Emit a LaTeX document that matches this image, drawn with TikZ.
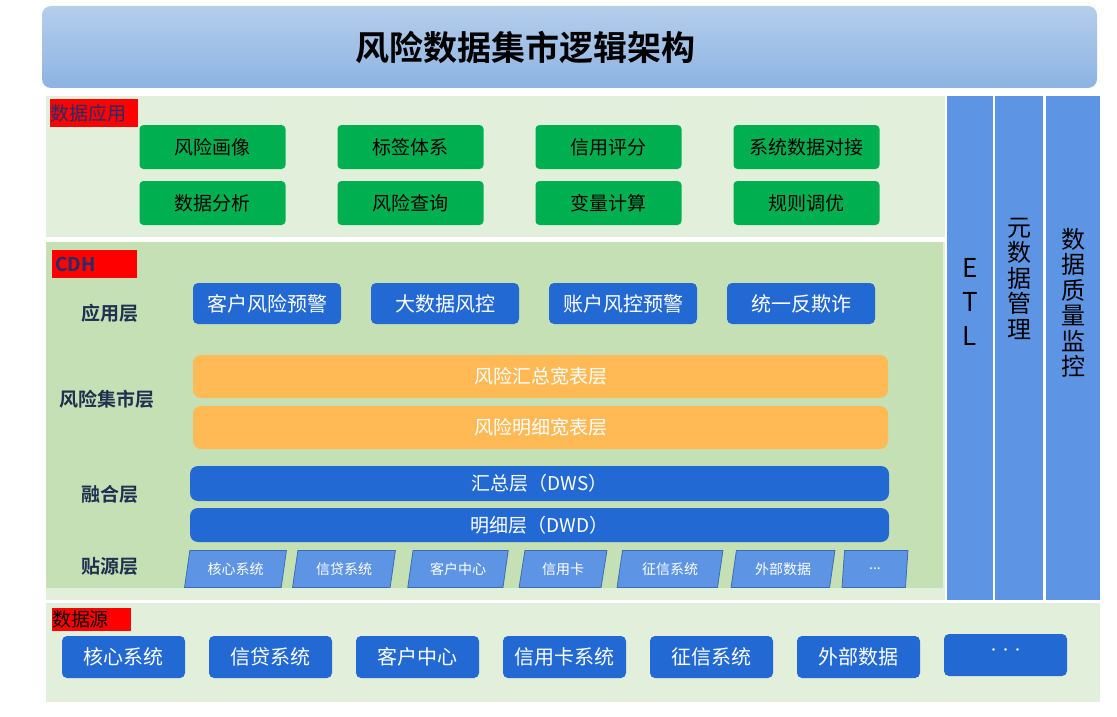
\documentclass[tikz,border=0pt]{standalone}
\usepackage{fontspec}
\setmainfont{Noto Sans CJK SC}[BoldFont={Noto Sans CJK SC Bold}]
\usetikzlibrary{positioning,shapes.geometric}
\definecolor{titletop}{HTML}{B5CEEB}
\definecolor{titlebot}{HTML}{8DB3E2}
\definecolor{palegreen}{HTML}{E2EFDA}
\definecolor{cdhgreen}{HTML}{C5E0B4}
\definecolor{appgreen}{HTML}{00B050}
\definecolor{deepblue}{HTML}{2369D4}
\definecolor{midblue}{HTML}{5D95E4}
\definecolor{paraedge}{HTML}{3C6DB4}
\definecolor{amber}{HTML}{FFB955}
\definecolor{tagnavy}{HTML}{1F2F6A}
\definecolor{layernavy}{HTML}{1F3050}
\begin{document}
\begin{tikzpicture}[
  x=1pt, y=-1pt,
  node distance=24pt,
  every node/.style={inner sep=0pt, outer sep=0pt},
  titlebar/.style={
    rounded corners=9pt,
    top color=titletop, bottom color=titlebot,
    minimum width=1055pt, minimum height=82pt
  },
  titletext/.style={font=\fontsize{34}{36}\selectfont\bfseries},
  zone/.style={fill=palegreen, anchor=north west},
  tag/.style={
    fill=red, anchor=north west,
    text width=#1, align=left, minimum height=28pt,
    text=tagnavy, font=\fontsize{19}{20}\selectfont
  },
  greenbox/.style={
    fill=appgreen, rounded corners=4pt,
    minimum width=146pt, minimum height=44pt,
    font=\fontsize{19}{20}\selectfont
  },
  bluebox/.style={
    fill=deepblue, rounded corners=5pt, text=white,
    minimum width=148pt, minimum height=41pt,
    font=\fontsize{20}{21}\selectfont
  },
  layer/.style={
    text=layernavy, font=\fontsize{19}{20}\selectfont\bfseries
  },
  widebar/.style={
    fill=#1, rounded corners=8pt, text=white,
    font=\fontsize{19}{20}\selectfont
  },
  srcpara/.style={
    trapezium, trapezium left angle=76, trapezium right angle=104,
    trapezium stretches=true,
    fill=midblue, draw=paraedge, line width=0.8pt, text=white,
    minimum width=#1, minimum height=37pt,
    font=\fontsize{14}{15}\selectfont
  },
  srcbox/.style={
    fill=deepblue, rounded corners=5pt, text=white,
    minimum width=123pt, minimum height=42pt,
    font=\fontsize{20}{21}\selectfont
  },
  pillar/.style={
    fill=midblue, anchor=north, minimum height=504pt, minimum width=#1
  },
  pillartext/.style={
    align=center, anchor=north, font=\fontsize{24}{25.5}\selectfont
  }
]
\fill[white] (0,0) rectangle (1117,717);
\useasboundingbox (0,0) rectangle (1117,717);

\node[titlebar] (title) at (569.5,47) {};
\node[titletext] (titlelabel) at (525,47) {风险数据集市逻辑架构};

\node[zone, minimum width=899pt, minimum height=141pt] (appzone) at (46,96) {};
\node[zone, minimum width=899pt, minimum height=358pt] (cdhzone) at (46,242) {};
\node[zone, fill=cdhgreen, minimum width=897pt, minimum height=346pt] (cdh) at (46,242) {};
\node[zone, minimum width=1054pt, minimum height=99pt] (srczone) at (46,603) {};

\node[pillar=46pt] (etl) at (970,96) {};
\node[pillar=48pt] (meta) at (1019,96) {};
\node[pillar=54pt] (quality) at (1073,96) {};
\node[pillartext, font=\fontsize{26}{34}\selectfont, below=162pt of etl.north] (etltext) {E\\T\\L};
\node[pillartext, below=122pt of meta.north] (metatext) {元\\数\\据\\管\\理};
\node[pillartext, below=132pt of quality.north] (qualitytext) {数\\据\\质\\量\\监\\控};

\node[tag=88pt] (apptag) at (50,99) {数据应用};
\node[greenbox] (portrait) at (212.5,147) {风险画像};
\node[greenbox, right=52pt of portrait] (labels) {标签体系};
\node[greenbox, right=52pt of labels] (scoring) {信用评分};
\node[greenbox, right=52pt of scoring] (docking) {系统数据对接};
\node[greenbox, below=12pt of portrait] (analysis) {数据分析};
\node[greenbox, below=12pt of labels] (query) {风险查询};
\node[greenbox, below=12pt of scoring] (variable) {变量计算};
\node[greenbox, below=12pt of docking] (tuning) {规则调优};

\node[tag=85pt, font=\fontsize{19}{20}\selectfont\bfseries] (cdhtag) at (52,250) {\,CDH};
\node[layer] (applayer) at (110,313) {应用层};
\node[layer] (martlayer) at (107,399) {风险集市层};
\node[layer] (fuselayer) at (110,494) {融合层};
\node[layer] (odslayer) at (110,566) {贴源层};

\node[bluebox] (custwarn) at (267,303.5) {客户风险预警};
\node[bluebox, right=30pt of custwarn] (bigdata) {大数据风控};
\node[bluebox, right=30pt of bigdata] (acctwarn) {账户风控预警};
\node[bluebox, right=30pt of acctwarn] (antifraud) {统一反欺诈};

\node[widebar=amber, minimum width=695pt, minimum height=43pt] (sumwide) at (540.5,376.5) {风险汇总宽表层};
\node[widebar=amber, minimum width=695pt, minimum height=43pt] (detailwide) at (540.5,427.5) {风险明细宽表层};
\node[widebar=deepblue, minimum width=699pt, minimum height=35pt] (dws) at (539.5,483.5) {汇总层（DWS）};
\node[widebar=deepblue, minimum width=699pt, minimum height=34pt] (dwd) at (539.5,525) {明细层（DWD）};

\node[srcpara=102pt] (odscore) at (235.5,569) {核心系统};
\node[srcpara=103pt] (odsloan) at (344,569) {信贷系统};
\node[srcpara=101pt] (odscust) at (458,569) {客户中心};
\node[srcpara=88pt] (odscard) at (563,569) {信用卡};
\node[srcpara=106pt] (odscredit) at (670,569) {征信系统};
\node[srcpara=104pt] (odsext) at (783,569) {外部数据};
\node[srcpara=66pt] (odsmore) at (875,569) {...};

\node[tag=79pt, minimum height=23pt, text=black] (srctag) at (52,608) {数据源};
\node[srcbox] (core) at (123.5,657) {核心系统};
\node[srcbox, right=of core] (loan) {信贷系统};
\node[srcbox, right=of loan] (customer) {客户中心};
\node[srcbox, right=of customer] (card) {信用卡系统};
\node[srcbox, right=of card] (credit) {征信系统};
\node[srcbox, right=of credit] (external) {外部数据};
\node[srcbox, right=of external, yshift=2pt] (more) {\raisebox{6pt}{\fontsize{12}{13}\selectfont ···}};
\end{tikzpicture}
\end{document}
